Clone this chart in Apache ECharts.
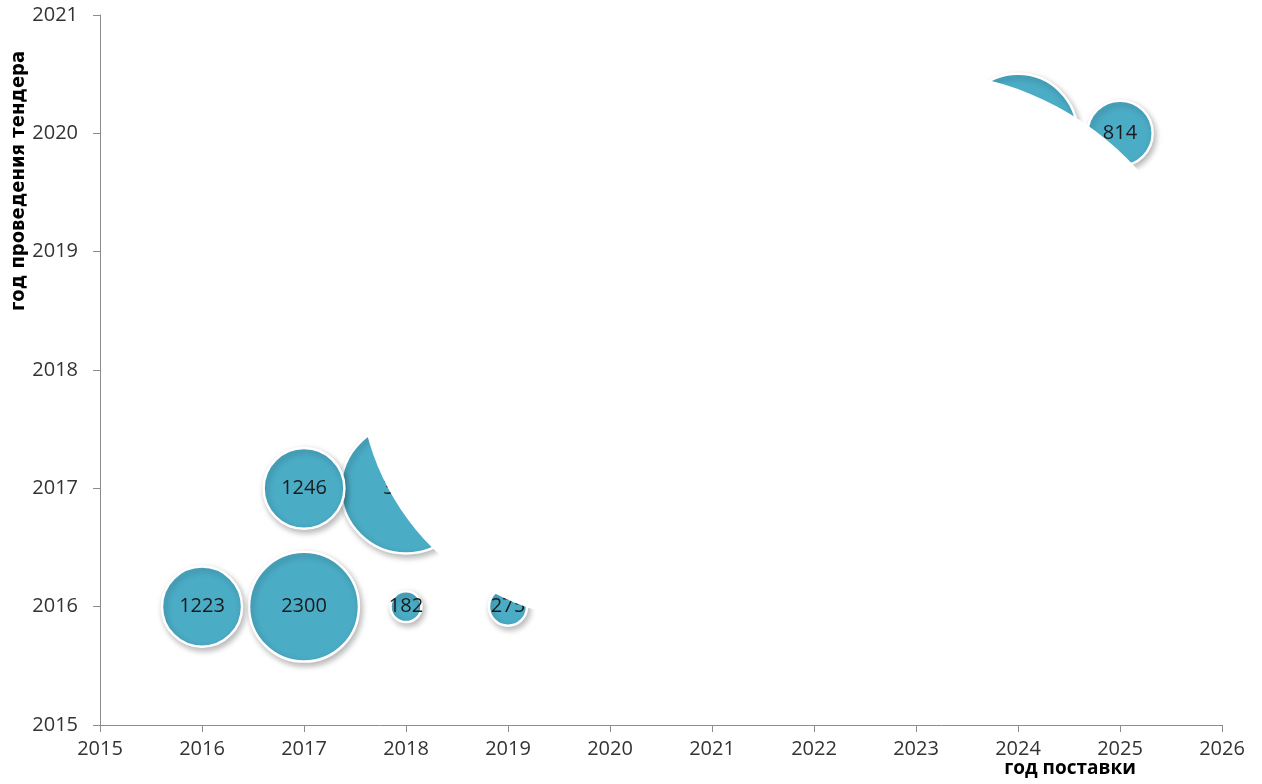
<!DOCTYPE html>
<html>
<head>
<meta charset="utf-8">
<script src="https://cdn.jsdelivr.net/npm/echarts@6/dist/echarts.min.js"></script>
<style>
  html, body { margin: 0; background: #fff; }
  #chart { width: 1262px; height: 784px; }
</style>
</head>
<body>
<div id="chart"></div>
<script>
// год поставки / год проведения тендера / объём
var deliveryYears = [2016, 2017, 2018, 2019, 2017, 2018, 2024, 2025];
var tenderYears   = [2016, 2016, 2016, 2016, 2017, 2017, 2020, 2020];
var volumes       = [1223, 2300, 182, 275, 1246, 3230, 2700, 814];

// белые пузыри поверх (без подписей)
var whiteX   = [2020, 2023];
var whiteY   = [2018, 2018];
var whiteVol = [48200, 68100];

var xTicks = [2015, 2026];
var yTicks = [2015, 2021];

function bubbleSize(v) { return 2.29 * Math.sqrt(v); }

var teal = [];
for (var i = 0; i < volumes.length; i++) {
  teal.push([deliveryYears[i], tenderYears[i], volumes[i]]);
}
teal.sort(function (a, b) { return b[2] - a[2]; });

var white = [];
for (var j = 0; j < whiteVol.length; j++) {
  white.push([whiteX[j], whiteY[j], whiteVol[j]]);
}

var chart = echarts.init(document.getElementById('chart'));
var axisFont = '"Open Sans", sans-serif';
var yearLabel = function (v) { return String(v); };

var option = {
  animation: false,
  grid: { left: 100, right: 40, top: 15, bottom: 59, containLabel: false, outerBoundsMode: 'none' },
  xAxis: {
    type: 'value', min: xTicks[0], max: xTicks[1], interval: 1,
    axisLine: { show: true, lineStyle: { color: '#8c8c8c', width: 1 } },
    axisTick: { show: true, length: 7, lineStyle: { color: '#8c8c8c' } },
    splitLine: { show: false },
    axisLabel: { color: '#333', fontSize: 20, fontFamily: axisFont, margin: 14, formatter: yearLabel }
  },
  yAxis: {
    type: 'value', min: yTicks[0], max: yTicks[1], interval: 1,
    axisLine: { show: true, lineStyle: { color: '#8c8c8c', width: 1 } },
    axisTick: { show: true, length: 7, lineStyle: { color: '#8c8c8c' } },
    splitLine: { show: false },
    axisLabel: { color: '#333', fontSize: 20, fontFamily: axisFont, margin: 22, formatter: yearLabel }
  },
  graphic: [
    {
      type: 'text', x: 19, y: 181, rotation: Math.PI / 2,
      style: {
        text: 'год проведения тендера', align: 'center', verticalAlign: 'middle',
        font: 'bold 20px "Liberation Sans Narrow", "DejaVu Sans Condensed", sans-serif',
        fill: '#000'
      }
    },
    {
      type: 'text', x: 1070, y: 769,
      style: {
        text: 'год поставки', align: 'center', verticalAlign: 'middle',
        font: 'bold 19px "Open Sans", sans-serif', fill: '#000'
      }
    }
  ],
  series: [
    {
      type: 'scatter', z: 2, clip: false,
      data: teal,
      symbolSize: function (v) { return bubbleSize(v[2]); },
      itemStyle: {
        color: '#4bacc6', borderColor: '#fff', borderWidth: 2.5, opacity: 1,
        shadowBlur: 6, shadowOffsetX: 2, shadowOffsetY: 3, shadowColor: 'rgba(0,0,0,0.28)'
      },
      label: {
        show: true, position: 'inside', formatter: function (p) { return p.value[2]; },
        color: '#1a1a1a', fontSize: 20, fontFamily: axisFont
      },
      emphasis: { disabled: true }
    },
    {
      type: 'scatter', z: 5, clip: false,
      data: white,
      symbolSize: function (v) { return bubbleSize(v[2]); },
      itemStyle: { color: '#fff', opacity: 1 },
      label: { show: false },
      emphasis: { disabled: true }
    }
  ]
};
chart.setOption(option);
</script>
</body>
</html>
